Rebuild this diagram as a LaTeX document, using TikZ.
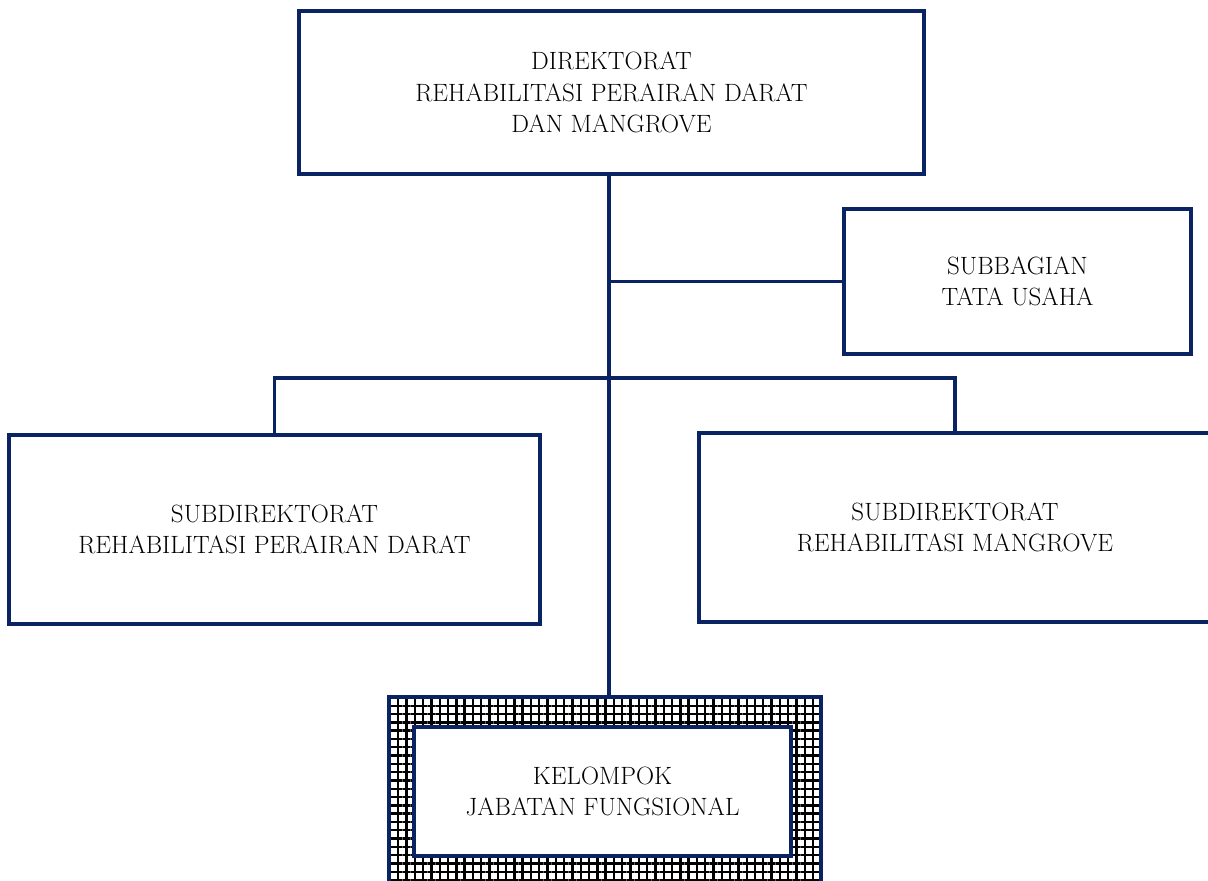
\documentclass[tikz,border=0pt]{standalone}
\usetikzlibrary{patterns.meta}
\definecolor{navy}{HTML}{0A2463}
\tikzset{
	unit box/.style={draw=navy, line width=2.8pt, fill=white, align=center,
		font=\fontsize{17.8}{22.5}\selectfont, inner sep=0pt},
	link/.style={draw=navy, line width=2.8pt}
}
\begin{document}
\begin{tikzpicture}[x=0.025cm, y=-0.025cm]
	\def\u{0.025cm}
	\useasboundingbox (0,0) rectangle (1208,880);
	\clip (0,0) rectangle (1208,880);
	
	\node[unit box, minimum width=625*\u, minimum height=163*\u] (dir) at (611.5,92.5)
		{DIREKTORAT\\REHABILITASI PERAIRAN DARAT\\DAN MANGROVE};
	\node[unit box, minimum width=347*\u, minimum height=145*\u] (subbag) at (1017.5,281.5)
		{SUBBAGIAN\\TATA USAHA};
	\node[unit box, minimum width=531*\u, minimum height=189*\u] (subdat) at (274.5,529.5)
		{SUBDIREKTORAT\\REHABILITASI PERAIRAN DARAT};
	\node[unit box, minimum width=512*\u, minimum height=189*\u] (submang) at (955,527.5)
		{SUBDIREKTORAT\\REHABILITASI MANGROVE};
	\node[draw=navy, line width=2.8pt, minimum width=432*\u, minimum height=189*\u,
		pattern={Hatch[angle=0, distance=5.9pt, line width=1.7pt]}, pattern color=black] (jabfung) at (605,791.5) {};
	\node[unit box, minimum width=377*\u, minimum height=129*\u] (kelompok) at (602.5,791.5)
		{KELOMPOK\\JABATAN FUNGSIONAL};
	
	\coordinate (bus) at (609,378);
	\draw[link] (dir.south -| bus) -- (jabfung.north -| bus);
	\draw[link] (subbag.west -| bus) -- (subbag.west);
	\draw[link] (subdat.north) |- (bus) -| (submang.north);
\end{tikzpicture}
\end{document}
